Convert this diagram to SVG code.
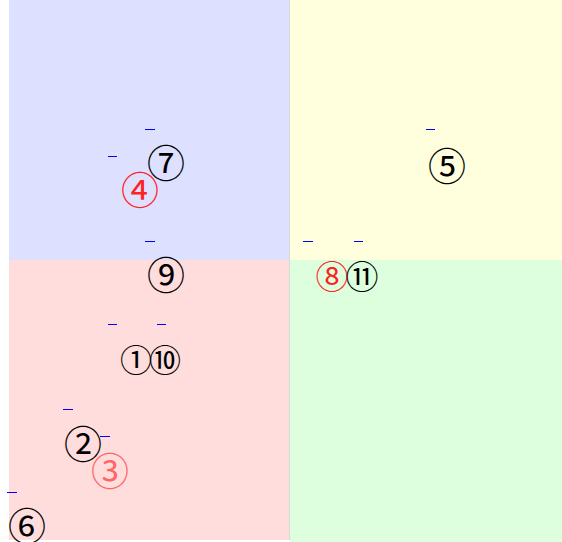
<svg xmlns="http://www.w3.org/2000/svg" width="562" height="542" viewBox="0 0 562 542">
<style>
.n{font-family:"Noto Sans CJK JP","DejaVu Sans",sans-serif;text-anchor:middle;fill:#000;font-weight:400}
.r{fill:#ff2222}
.r2{fill:#ff6666}
.d{stroke:#0000ff;stroke-width:1}
</style>
<rect width="562" height="542" fill="#ffffff"/>
<g id="quadrants">
<rect x="9" y="0" width="281" height="260" fill="#dde0ff"/>
<rect x="290" y="0" width="272" height="260" fill="#ffffdd"/>
<rect x="9" y="260" width="281" height="280" fill="#ffdddd"/>
<rect x="290" y="260" width="272" height="282" fill="#ddffdd"/>
<line x1="289.5" y1="0" x2="289.5" y2="540" stroke="#d8d8d8" stroke-width="1"/>
</g>
<g id="connectors"></g>
<g id="dashes">
<line class="d" x1="145" y1="129.5" x2="155" y2="129.5"/>
<line class="d" x1="108" y1="156.5" x2="117" y2="156.5"/>
<line class="d" x1="426" y1="129.5" x2="435" y2="129.5"/>
<line class="d" x1="145" y1="241.5" x2="155" y2="241.5"/>
<line class="d" x1="303" y1="241.5" x2="313" y2="241.5"/>
<line class="d" x1="354" y1="241.5" x2="363" y2="241.5"/>
<line class="d" x1="108" y1="324.5" x2="117" y2="324.5"/>
<line class="d" x1="157" y1="324.5" x2="166" y2="324.5"/>
<line class="d" x1="63" y1="409.5" x2="73" y2="409.5"/>
<line class="d" x1="100" y1="436.5" x2="110" y2="436.5"/>
<line class="d" x1="7" y1="492.5" x2="17" y2="492.5"/>
</g>
<g id="node7"><text class="n" x="166" y="177" font-size="38">⑦</text></g>
<g id="node4"><text class="n r" x="140" y="204" font-size="38">④</text></g>
<g id="node5"><text class="n" x="447" y="180" font-size="38">⑤</text></g>
<g id="node9"><text class="n" x="166" y="289" font-size="38">⑨</text></g>
<g id="node8"><text class="n r" x="332" y="288.5" font-size="33">⑧</text></g>
<g id="node11"><text class="n" x="362" y="288.5" font-size="33">⑪</text></g>
<g id="node1"><text class="n" x="136" y="372" font-size="32">①</text></g>
<g id="node10"><text class="n" x="165" y="372" font-size="32">⑩</text></g>
<g id="node2"><text class="n" x="83" y="458" font-size="38">②</text></g>
<g id="node3"><text class="n r2" x="110" y="485" font-size="38">③</text></g>
<g id="node6"><text class="n" x="27" y="540" font-size="38">⑥</text></g>
</svg>
